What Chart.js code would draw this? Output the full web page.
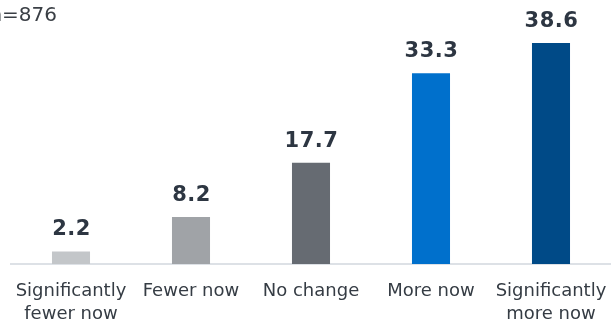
<!DOCTYPE html>
<html>
<head>
<meta charset="utf-8">
<script src="https://cdn.jsdelivr.net/npm/chart.js@4/dist/chart.umd.min.js"></script>
<style>
html,body{margin:0;padding:0;background:#fff;}
#wrap{width:611px;height:321px;position:relative;}
</style>
</head>
<body>
<div id="wrap"><canvas id="c" width="611" height="321"></canvas></div>
<script>
const categories = [["Significantly","fewer now"],"Fewer now","No change","More now",["Significantly","more now"]];
const values = [2.2, 8.2, 17.7, 33.3, 38.6];
const barColors = ["#c3c6c9","#a0a3a7","#666b72","#0070cc","#004a87"];
const sampleNote = "n=876";

const valueLabels = {
  id: 'valueLabels',
  afterDatasetsDraw(chart) {
    const ctx = chart.ctx;
    const meta = chart.getDatasetMeta(0);
    ctx.save();
    ctx.font = 'bold 21px "DejaVu Sans", Verdana, sans-serif';
    ctx.fillStyle = '#2d3642';
    ctx.textAlign = 'center';
    ctx.textBaseline = 'alphabetic';
    try { ctx.letterSpacing = '0.5px'; } catch (e) {}
    meta.data.forEach((bar, i) => {
      ctx.fillText(values[i].toFixed(1), bar.x + 0.5, bar.y - 16);
    });
    try { ctx.letterSpacing = '0px'; } catch (e) {}
    ctx.font = '20px "DejaVu Sans", Verdana, sans-serif';
    ctx.fillStyle = '#3a3f45';
    ctx.textAlign = 'right';
    ctx.fillText(sampleNote, 57, 21);
    ctx.restore();
  }
};

new Chart(document.getElementById('c'), {
  type: 'bar',
  data: {
    labels: categories,
    datasets: [{
      data: values,
      backgroundColor: barColors,
      borderWidth: 0,
      barPercentage: 0.317,
      categoryPercentage: 1.0
    }]
  },
  options: {
    responsive: false,
    animation: false,
    devicePixelRatio: 1,
    layout: { padding: { left: 11, right: 0, top: 35, bottom: 0 } },
    plugins: { legend: { display: false }, tooltip: { enabled: false }, title: { display: false } },
    scales: {
      x: {
        grid: { display: false, drawTicks: false },
        border: { display: true, color: '#dde1e6', width: 2 },
        ticks: {
          color: '#353c44',
          font: { family: '"DejaVu Sans", Verdana, sans-serif', size: 18, lineHeight: 1.28 },
          padding: 16,
          maxRotation: 0,
          autoSkip: false
        },
        afterFit(scale) { scale.height = 57; scale.paddingLeft = 0; scale.paddingRight = 0; }
      },
      y: {
        display: false,
        min: 0,
        max: 40
      }
    }
  },
  plugins: [valueLabels]
});
</script>
</body>
</html>
